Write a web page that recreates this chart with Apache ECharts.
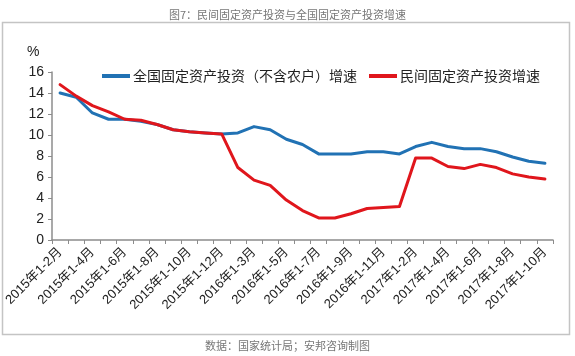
<!DOCTYPE html>
<html>
<head>
<meta charset="utf-8">
<script src="https://cdn.jsdelivr.net/npm/echarts@6/dist/echarts.min.js"></script>
<style>
html,body{margin:0;padding:0;background:#fff;}
#c{width:575px;height:356px;}
</style>
</head>
<body>
<div id="c"></div>
<script>
var categories = [
  '2015年1-2月','2015年1-3月','2015年1-4月','2015年1-5月','2015年1-6月','2015年1-7月','2015年1-8月','2015年1-9月','2015年1-10月','2015年1-11月','2015年1-12月',
  '2016年1-2月','2016年1-3月','2016年1-4月','2016年1-5月','2016年1-6月','2016年1-7月','2016年1-8月','2016年1-9月','2016年1-10月','2016年1-11月','2016年1-12月',
  '2017年1-2月','2017年1-3月','2017年1-4月','2017年1-5月','2017年1-6月','2017年1-7月','2017年1-8月','2017年1-9月','2017年1-10月'
];
var nationalGrowth = [14.0,13.6,12.1,11.5,11.5,11.3,11.0,10.5,10.3,10.2,10.1,
  10.2,10.8,10.5,9.6,9.1,8.2,8.2,8.2,8.4,8.4,8.2,
  8.9,9.3,8.9,8.7,8.7,8.4,7.9,7.5,7.3];
var privateGrowth = [14.8,13.7,12.8,12.2,11.5,11.4,11.0,10.5,10.3,10.2,10.1,
  6.9,5.7,5.2,3.8,2.8,2.1,2.1,2.5,3.0,3.1,3.2,
  7.8,7.8,7.0,6.8,7.2,6.9,6.3,6.0,5.8];
var seriesNames = ['全国固定资产投资（不含农户）增速','民间固定资产投资增速'];
var titleText = '图7：民间固定资产投资与全国固定资产投资增速';
var sourceText = '数据：国家统计局；安邦咨询制图';
var unitText = '%';

var chart = echarts.init(document.getElementById('c'), null, {renderer:'canvas'});
var axisColor = '#8c8c8c';
chart.setOption({
  animation:false,
  backgroundColor:'#fff',
  title:{
    text:titleText, left:'center', top:4,
    textStyle:{fontSize:11, fontWeight:'normal', color:'#777', fontFamily:'Noto Sans CJK SC'}
  },
  graphic:[
    {type:'rect', shape:{x:2.5, y:22.5, width:567, height:312},
     style:{fill:'none', stroke:'#c4c4c4', lineWidth:1.5}, silent:true, z:-1},
    {type:'text', left:27, top:45, style:{text:unitText, font:'14px "Liberation Sans", Arial', fill:'#222'}},
    {type:'text', left:'center', top:340, style:{text:sourceText, font:'11px "Noto Sans CJK SC"', fill:'#777'}}
  ],
  legend:{
    left:97, top:64, icon:'rect', itemWidth:28, itemHeight:4, itemGap:12,
    textStyle:{fontSize:14, color:'#222', fontFamily:'Noto Sans CJK SC', padding:[0,0,0,-2]},
    data:seriesNames
  },
  grid:{left:52, right:22, top:72, bottom:116, containLabel:false},
  xAxis:{
    type:'category', data:categories, boundaryGap:true,
    axisLine:{lineStyle:{color:axisColor, width:1.5}},
    axisTick:{show:true, alignWithLabel:false, interval:0, length:4, lineStyle:{color:axisColor}},
    axisLabel:{interval:1, rotate:45, fontSize:13, color:'#222', margin:10,
      fontFamily:'"Liberation Sans", "Noto Sans CJK SC"'},
    splitLine:{show:false}
  },
  yAxis:{
    type:'value', min:0, max:16, interval:2,
    axisLine:{show:true, lineStyle:{color:axisColor, width:1.5}},
    axisTick:{show:true, length:4, inside:false, lineStyle:{color:axisColor}},
    axisLabel:{fontSize:14, color:'#222', margin:8, fontFamily:'"Liberation Sans", Arial'},
    splitLine:{show:false}
  },
  series:[
    {name:seriesNames[0], type:'line', data:nationalGrowth, symbol:'none', smooth:false,
     lineStyle:{color:'#2172b4', width:3, join:'round', cap:'round'}, itemStyle:{color:'#2172b4'}, z:2},
    {name:seriesNames[1], type:'line', data:privateGrowth, symbol:'none', smooth:false,
     lineStyle:{color:'#e0161c', width:3, join:'round', cap:'round'}, itemStyle:{color:'#e0161c'}, z:3}
  ]
});
</script>
</body>
</html>
